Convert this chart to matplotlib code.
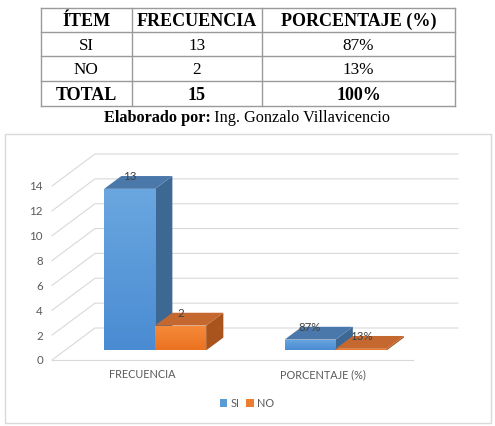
import matplotlib
matplotlib.use("Agg")
import matplotlib.pyplot as plt
import numpy as np
from matplotlib.patches import Polygon, Rectangle, Patch
from matplotlib.lines import Line2D

# ---------------- data ----------------
table_header = ["ÍTEM", "FRECUENCIA", "PORCENTAJE (%)"]
table_items = ["SI", "NO", "TOTAL"]
table_freq = ["13", "2", "15"]
table_pct = ["87%", "13%", "100%"]
caption_bold = "Elaborado por:"
caption_rest = " Ing. Gonzalo Villavicencio"

categories = ["FRECUENCIA", "PORCENTAJE (%)"]
series_names = ["SI", "NO"]
si_values = [13, 0.87]
no_values = [2, 0.13]
si_labels = ["13", "87%"]
no_labels = ["2", "13%"]
yticks = [0, 2, 4, 6, 8, 10, 12, 14]

# ---------------- figure ----------------
W, H = 495, 427
fig = plt.figure(figsize=(W / 100, H / 100), dpi=100)
fig.patch.set_facecolor("white")

def fx(px):
    return px / W

def fy(py):
    return 1 - py / H

# ---- table ----
serif = "Liberation Serif"
tcol = "#9a9a9a"
xs = [41, 132, 262, 455]
ys = [9, 33, 57, 82, 107]
for x in xs:
    fig.add_artist(Line2D([fx(x), fx(x)], [fy(ys[0]), fy(ys[-1])], color=tcol, lw=1.0))
for y in ys:
    fig.add_artist(Line2D([fx(xs[0]), fx(xs[-1])], [fy(y), fy(y)], color=tcol, lw=1.0))

rows = [table_header] + [[a, b, c] for a, b, c in zip(table_items, table_freq, table_pct)]
for r, row in enumerate(rows):
    yc = (ys[r] + ys[r + 1]) / 2 + 0.5
    bold = (r == 0) or (r == len(rows) - 1)
    for c, txt in enumerate(row):
        xc = (xs[c] + xs[c + 1]) / 2
        fig.text(fx(xc), fy(yc), txt, ha="center", va="center", family=serif,
                 fontsize=13 if bold else 12.3, fontweight="bold" if bold else "normal",
                 color="black")

# caption
cap1 = fig.text(0, fy(118), caption_bold, ha="left", va="center", family=serif,
                fontsize=11.7, fontweight="bold")
cap2 = fig.text(0, fy(118), caption_rest, ha="left", va="center", family=serif,
                fontsize=11.7)
fig.canvas.draw()
r = fig.canvas.get_renderer()
w1 = cap1.get_window_extent(r).width
w2 = cap2.get_window_extent(r).width
start = 247 - (w1 + w2) / 2
cap1.set_x(fx(start))
cap2.set_x(fx(start + w1))

# ---- chart border ----
fig.add_artist(Rectangle((fx(5), fy(424)), fx(491) - fx(5), fy(135) - fy(424),
                         fill=False, edgecolor="#d9d9d9", lw=1.0))

# ---- chart axes (front plane coordinates) ----
px_per_x = 180.5
px_per_y = 174 / 14
left_px, right_px = 52, 458
floor_px = 361
ax_h_px = 207
ax = fig.add_axes([fx(left_px), fy(floor_px), (right_px - left_px) / W, ax_h_px / H])
xmin = -0.5
xmax = xmin + (right_px - left_px) / px_per_x
ax.set_xlim(xmin, xmax)
ax.set_ylim(0, ax_h_px / px_per_y)
ax.axis("off")

Dx = 43 / px_per_x
Dy = 32 / px_per_y
grid_c = "#d9d9d9"
txt_c = "#595959"
sans = "Lato"
fs = 8.3

for v in yticks:
    ax.plot([xmin, xmin + Dx, xmax], [v, v + Dy, v + Dy], color=grid_c, lw=0.8,
            clip_on=False, zorder=1)
    ax.text(xmin - 9 / px_per_x, v, str(v), ha="right", va="center",
            fontsize=fs, color=txt_c, family=sans)
ax.plot([xmin, xmin + len(categories)], [0, 0], color=grid_c, lw=0.8, clip_on=False, zorder=1)

w = 51 / px_per_x
f0 = 0.3
bd = 0.4
colors = {
    "SI": {"top_g": "#6aa7e0", "bot_g": "#4a8bd2", "top": "#4b78ab", "side": "#3d6894"},
    "NO": {"top_g": "#f68b3b", "bot_g": "#ea7220", "top": "#c5682f", "side": "#a9541c"},
}

def hex2rgb(h):
    return np.array([int(h[i:i + 2], 16) / 255 for i in (1, 3, 5)])

series = [(series_names[0], si_values, si_labels), (series_names[1], no_values, no_labels)]
for i in range(len(categories)):
    for j, (name, vals, labs) in enumerate(series):
        v = vals[i]
        col = colors[name]
        x0 = i - w + j * w
        fx0 = x0 + f0 * Dx
        fy0 = f0 * Dy
        bx = x0 + (f0 + bd) * Dx
        by = (f0 + bd) * Dy
        z = 3 + i * 10 + j * 3
        side = Polygon([(fx0 + w, fy0), (fx0 + w, v + fy0), (bx + w, v + by), (bx + w, by)],
                       closed=True, facecolor=col["side"], edgecolor="none", zorder=z)
        ax.add_patch(side)
        top = Polygon([(fx0, v + fy0), (fx0 + w, v + fy0), (bx + w, v + by), (bx, v + by)],
                      closed=True, facecolor=col["top"], edgecolor="none", zorder=z)
        ax.add_patch(top)
        bars = ax.bar(fx0, v, width=w, bottom=fy0, align="edge", color=col["bot_g"],
                      edgecolor="none", zorder=z + 1)
        rect = bars[0]
        c1 = hex2rgb(col["top_g"])
        c2 = hex2rgb(col["bot_g"])
        t = np.linspace(0, 1, 64)[:, None]
        grad = (c1[None, :] * (1 - t) + c2[None, :] * t)[:, None, :]
        im = ax.imshow(grad, extent=(fx0, fx0 + w, fy0, fy0 + v), aspect="auto",
                       origin="upper", zorder=z + 1.5, interpolation="bilinear")
        im.set_clip_path(rect)
        ax.text(fx0 + w / 2, v + fy0 + 13 / px_per_y, labs[i], ha="center", va="center",
                fontsize=fs, color="#404040", family=sans, zorder=50)

ax.set_xlim(xmin, xmax)
ax.set_ylim(0, ax_h_px / px_per_y)

for i, cat in enumerate(categories):
    ax.text(i, -14 / px_per_y, cat, ha="center", va="center", fontsize=7.8,
            color=txt_c, family=sans, clip_on=False)

handles = [Patch(facecolor="#5b9bd5", edgecolor="none"), Patch(facecolor="#ed7d31", edgecolor="none")]
fig.legend(handles, series_names, loc="center", bbox_to_anchor=(fx(247), fy(404)), ncol=2,
           frameon=False, handlelength=0.7, handleheight=0.7,
           handletextpad=0.3, columnspacing=0.6, prop={"family": sans, "size": 7.8},
           labelcolor=txt_c)

fig.savefig("out.png", dpi=100, facecolor="white")
